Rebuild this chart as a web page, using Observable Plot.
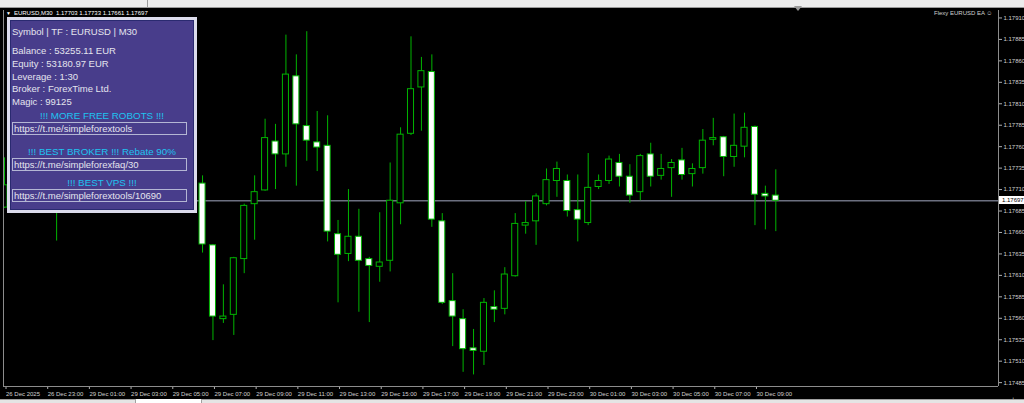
<!DOCTYPE html>
<html><head><meta charset="utf-8">
<script src="https://cdn.jsdelivr.net/npm/d3@7"></script>
<script src="https://cdn.jsdelivr.net/npm/@observablehq/plot@0.6"></script>
<style>
html,body{margin:0;padding:0;background:#000;width:1024px;height:403px;overflow:hidden;}
#wrap{position:relative;width:1024px;height:403px;background:#000;font-family:"Liberation Sans",Arial,sans-serif;}
#chart svg{position:absolute;left:0;top:0;}
#topstrip{position:absolute;left:0;top:0;width:1024px;height:7px;background:#ececec;border-bottom:1px solid #9a9a9a;}
#topsep{position:absolute;left:147px;top:0;width:1px;height:7px;background:#9a9a9a;}
#botstrip{position:absolute;left:0;top:399px;width:1024px;height:4px;background:#e4e4e4;border-top:1px solid #a0a0a0;}
#bottab{position:absolute;left:135px;top:399px;width:65px;height:4px;background:#fff;border-left:1px solid #a0a0a0;border-right:1px solid #a0a0a0;}
#title{position:absolute;left:6px;top:9px;font-size:6px;color:#fff;white-space:nowrap;line-height:8px;}
#title .tri{font-size:5px;margin-right:3px;}
#ea{position:absolute;left:934px;top:9px;font-size:6px;color:#d0d0d0;white-space:nowrap;line-height:8px;}
#shift{position:absolute;left:794px;top:6px;width:0;height:0;border-left:4px solid transparent;border-right:4px solid transparent;border-top:5px solid #9a9a9a;}
#plabel{position:absolute;left:999px;width:25px;height:8px;background:#fff;color:#000;font-size:6px;line-height:8px;text-indent:3px;}
#panel{position:absolute;left:7px;top:17px;width:184px;height:190px;background:#483D8B;border:3px solid #dcdcec;box-shadow:inset 0 0 0 1px #2a2a70;}
#panel .ln{position:absolute;left:2px;font-size:9.5px;line-height:12px;color:#e4e4ee;white-space:nowrap;}
#panel .hd{position:absolute;left:0;width:184px;text-align:center;font-size:9.8px;line-height:12px;color:#1ec3f0;white-space:nowrap;}
#panel .bx{position:absolute;left:2px;width:173px;height:11px;border:1px solid #b4b6d4;font-size:9.5px;line-height:11px;color:#e4e4ee;text-indent:1px;white-space:nowrap;overflow:hidden;}
</style>
</head><body>
<div id="wrap">
  <div id="chart"></div>
  <div id="topstrip"></div><div id="topsep"></div>
  <div id="shift"></div>
  <div id="title"></div>
  <div id="ea">Flexy EURUSD EA ☺</div>
  <div id="plabel"></div>
  <div id="panel">
    <div class="ln" style="top:6px">Symbol | TF : EURUSD | M30</div>
    <div class="ln" style="top:25px">Balance : 53255.11 EUR</div>
    <div class="ln" style="top:38px">Equity : 53180.97 EUR</div>
    <div class="ln" style="top:51px">Leverage : 1:30</div>
    <div class="ln" style="top:63px">Broker : ForexTime Ltd.</div>
    <div class="ln" style="top:76px">Magic : 99125</div>
    <div class="hd" style="top:90px">!!! MORE FREE ROBOTS !!!</div>
    <div class="bx" style="top:102px">https://t.me/simpleforextools</div>
    <div class="hd" style="top:126px">!!! BEST BROKER !!! Rebate 90%</div>
    <div class="bx" style="top:138px">https://t.me/simpleforexfaq/30</div>
    <div class="hd" style="top:157px">!!! BEST VPS !!!</div>
    <div class="bx" style="top:169px">https://t.me/simpleforextools/10690</div>
  </div>
  <div id="botstrip"></div><div id="bottab"></div>
</div>
<script>
// ---- data (EURUSD M30) ----
const symbol = "EURUSD,M30";
const open  = [1.17689,1.17715,1.17731,1.17718,1.17702,1.17709,1.17700,1.17720,1.17712,1.17726,
               1.17744,1.17735,1.17718,1.17729,1.17750,1.17741,1.17724,1.17732,1.17720,1.17717,
               1.17645,1.17559,1.17564,1.17629,1.17693,1.17709,1.17766,1.17751,1.17842,1.17784,
               1.17765,1.17761,1.17658,1.17635,1.17655,1.17629,1.17620,1.17627,1.17694,1.17775,
               1.17829,1.17847,1.17673,1.17580,1.17559,1.17525,1.17521,1.17573,1.17571,1.17609,
               1.17668,1.17673,1.17693,1.17720,1.17720,1.17686,1.17671,1.17713,1.17720,1.17741,
               1.17725,1.17707,1.17751,1.17726,1.17735,1.17744,1.17728,1.17735,1.17768,1.17771,
               1.17748,1.17760,1.17783,1.17705,1.17703];
const high  = [1.17747,1.17740,1.17745,1.17728,1.17715,1.17722,1.17725,1.17738,1.17730,1.17752,
               1.17760,1.17748,1.17734,1.17756,1.17765,1.17750,1.17738,1.17744,1.17733,1.17726,
               1.17646,1.17599,1.17631,1.17693,1.17726,1.17792,1.17786,1.17890,1.17867,1.17894,
               1.17801,1.17796,1.17674,1.17710,1.17687,1.17631,1.17683,1.17741,1.17782,1.17888,
               1.17864,1.17867,1.17682,1.17612,1.17570,1.17547,1.17583,1.17592,1.17619,1.17682,
               1.17696,1.17705,1.17734,1.17742,1.17727,1.17727,1.17752,1.17727,1.17749,1.17751,
               1.17739,1.17751,1.17764,1.17751,1.17745,1.17758,1.17740,1.17780,1.17793,1.17772,
               1.17798,1.17799,1.17784,1.17714,1.17733];
const low   = [1.17688,1.17700,1.17712,1.17696,1.17690,1.17650,1.17696,1.17708,1.17700,1.17718,
               1.17730,1.17712,1.17705,1.17722,1.17736,1.17718,1.17710,1.17716,1.17706,1.17636,
               1.17534,1.17554,1.17540,1.17612,1.17651,1.17708,1.17710,1.17736,1.17714,1.17743,
               1.17731,1.17649,1.17578,1.17626,1.17567,1.17555,1.17602,1.17614,1.17669,1.17773,
               1.17778,1.17666,1.17576,1.17527,1.17497,1.17494,1.17505,1.17555,1.17564,1.17608,
               1.17658,1.17645,1.17691,1.17701,1.17678,1.17649,1.17668,1.17710,1.17716,1.17713,
               1.17694,1.17697,1.17713,1.17721,1.17701,1.17721,1.17713,1.17728,1.17761,1.17725,
               1.17736,1.17747,1.17668,1.17663,1.17661];
const close = [1.17715,1.17731,1.17718,1.17702,1.17709,1.17700,1.17720,1.17712,1.17726,1.17744,
               1.17735,1.17718,1.17729,1.17750,1.17741,1.17724,1.17732,1.17720,1.17717,1.17646,
               1.17562,1.17562,1.17630,1.17691,1.17707,1.17770,1.17751,1.17844,1.17786,1.17767,
               1.17759,1.17661,1.17634,1.17655,1.17627,1.17621,1.17625,1.17697,1.17774,1.17827,
               1.17848,1.17675,1.17578,1.17562,1.17524,1.17522,1.17578,1.17570,1.17611,1.17670,
               1.17671,1.17702,1.17721,1.17734,1.17685,1.17675,1.17712,1.17720,1.17745,1.17725,
               1.17703,1.17749,1.17725,1.17734,1.17741,1.17727,1.17734,1.17767,1.17770,1.17748,
               1.17761,1.17782,1.17704,1.17702,1.17697];
const timeTickBars   = [0,4,8,12,16,20,24,28,32,36,40,44,48,52,56,60,64,68,72];
const timeTickLabels = ["26 Dec 2025","26 Dec 23:00","29 Dec 01:00","29 Dec 03:00","29 Dec 05:00",
  "29 Dec 07:00","29 Dec 09:00","29 Dec 11:00","29 Dec 13:00","29 Dec 15:00","29 Dec 17:00",
  "29 Dec 19:00","29 Dec 21:00","29 Dec 23:00","30 Dec 01:00","30 Dec 03:00","30 Dec 05:00",
  "30 Dec 07:00","30 Dec 09:00"];
const priceTicks = [1.17485,1.17510,1.17535,1.17560,1.17585,1.17610,1.17635,1.17660,1.17685,
  1.17710,1.17735,1.17760,1.17785,1.17810,1.17835,1.17860,1.17885,1.17910];

// ---- build ----
const bars = open.map((o, i) => ({i, open: o, high: high[i], low: low[i], close: close[i]}));
const bull = bars.filter(d => d.close >= d.open);
const bear = bars.filter(d => d.close < d.open);
const labelOf = new Map(timeTickBars.map((b, j) => [b, timeTickLabels[j]]));
const last = bars[bars.length - 1];
const xDom = [-0.096, 95.365];
const yDom = [1.174805, 1.179187];
const green = "#00b400";
const hw = 0.29;

const chart = Plot.plot({
  width: 1024, height: 403,
  marginTop: 10, marginBottom: 17, marginLeft: 3, marginRight: 26,
  style: {background: "transparent", color: "#d0d0d0", fontFamily: "'Liberation Sans', Arial, sans-serif", fontSize: "6px"},
  x: {domain: xDom},
  y: {domain: yDom},
  marks: [
    Plot.ruleY([last.close], {stroke: "#6c7080", strokeWidth: 1.5}),
    Plot.ruleX(bars, {x: "i", y1: "low", y2: "high", stroke: green, clip: true}),
    Plot.rect(bull, {x1: d => d.i - hw, x2: d => d.i + hw, y1: "open", y2: "close", fill: "#000", stroke: green, clip: true}),
    Plot.rect(bear, {x1: d => d.i - hw, x2: d => d.i + hw, y1: "open", y2: "close", fill: "#fff", stroke: green, clip: true}),
    Plot.axisX({anchor: "bottom", ticks: timeTickBars, tickFormat: b => labelOf.get(b), tickSize: 3, tickPadding: 2,
                textAnchor: "start", dx: 1.5, fontSize: 6, stroke: "#b0b0b0", fill: "#d0d0d0"}),
    Plot.axisY({anchor: "right", ticks: priceTicks, tickFormat: d => d.toFixed(5), tickSize: 3, tickPadding: 2,
                fontSize: 6, stroke: "#b0b0b0", fill: "#d0d0d0"}),
    Plot.ruleX([xDom[0], xDom[1]], {stroke: "#8c8c8c"}),
    Plot.ruleY([yDom[0]], {stroke: "#8c8c8c"})
  ]
});
document.getElementById("chart").appendChild(chart);

document.getElementById("title").innerHTML =
  '<span class="tri">▼</span>' + symbol + '&nbsp; ' + [last.open, last.high, last.low, last.close].map(v => v.toFixed(5)).join(" ");
const py = chart.scale("y").apply(last.close);
const pl = document.getElementById("plabel");
pl.textContent = last.close.toFixed(5);
pl.style.top = (py - 4) + "px";
</script>
</body></html>
